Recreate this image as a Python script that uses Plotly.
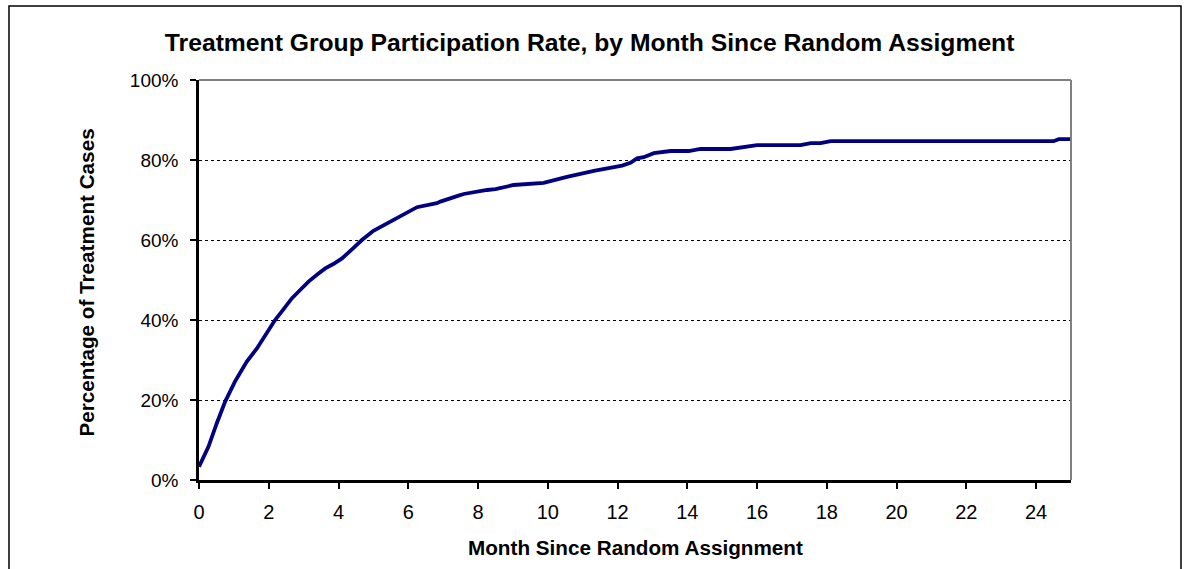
import plotly.graph_objects as go

months = [0, 0.27, 0.51, 0.75, 1.03, 1.37, 1.66, 1.94, 2.18, 2.37, 2.66, 2.90, 3.14, 3.38,
          3.62, 3.85, 4.10, 4.40, 4.67, 5.00, 5.48, 5.96, 6.25, 6.82, 6.92, 7.44, 7.59,
          8.26, 8.50, 9.02, 9.69, 9.88, 10.55, 11.32, 12.13, 12.37, 12.56, 12.75, 13.04,
          13.52, 14.04, 14.38, 15.24, 15.53, 16.0, 17.25, 17.54, 17.82, 18.11, 24.5,
          24.65, 25.0]
pct = [3.3, 8.3, 14.2, 19.6, 24.6, 29.6, 32.9, 36.7, 40.0, 42.1, 45.4, 47.5, 49.6, 51.3,
       52.9, 54.0, 55.4, 57.8, 60.0, 62.3, 64.6, 66.8, 68.2, 69.2, 69.6, 71.1, 71.5,
       72.5, 72.7, 73.75, 74.2, 74.3, 75.8, 77.3, 78.6, 79.3, 80.4, 80.7, 81.7,
       82.25, 82.25, 82.75, 82.75, 83.2, 83.7, 83.7, 84.2, 84.2, 84.7, 84.7,
       85.2, 85.2]

x_ticks = list(range(0, 25, 2))
y_ticks = [0, 20, 40, 60, 80, 100]
y_tick_labels = [f"{v}%" for v in y_ticks]

title_text = "Treatment Group Participation Rate, by Month Since Random Assigment"
x_title = "Month Since Random Assignment"
y_title = "Percentage of Treatment Cases"

FONT = "Liberation Sans, Arial, sans-serif"

fig = go.Figure()
fig.add_trace(go.Scatter(x=months, y=pct, mode="lines",
                         line=dict(color="#000080", width=3.8), hoverinfo="skip",
                         showlegend=False))

fig.update_layout(
    width=1190, height=569,
    margin=dict(l=199, r=119, t=80, b=89),
    paper_bgcolor="white", plot_bgcolor="white",
    font=dict(family=FONT, size=19, color="black"),
    title=dict(text=f"<b>{title_text}</b>", x=0.448, xref="paper", xanchor="center",
               y=1 - 42 / 569, yref="container", yanchor="middle",
               font=dict(family=FONT, size=24.7, color="black")),
    xaxis=dict(range=[0, 25], tickvals=x_ticks, ticks="outside", ticklen=6,
               tickwidth=1.5, tickcolor="black", showline=True, linecolor="black",
               linewidth=2.5, showgrid=False, zeroline=False, ticklabelstandoff=6,
               tickfont=dict(family=FONT, size=20)),
    yaxis=dict(range=[0, 100], tickvals=y_ticks, ticktext=y_tick_labels,
               ticks="outside", ticklen=6, tickwidth=1.5, tickcolor="black",
               showline=True, linecolor="black", linewidth=2.5, showgrid=True,
               gridcolor="black", gridwidth=1, griddash="dot", zeroline=False,
               ticklabelstandoff=8, tickfont=dict(family=FONT, size=19)),
    shapes=[
        dict(type="line", xref="paper", yref="paper", x0=0, x1=1, y0=1, y1=1,
             line=dict(color="#808080", width=2)),
        dict(type="line", xref="paper", yref="paper", x0=1, x1=1, y0=0, y1=1,
             line=dict(color="#808080", width=2)),
        dict(type="rect", xref="paper", yref="paper",
             x0=(9 - 199) / 872, x1=(1181 - 199) / 872,
             y0=(480 - 575) / 400, y1=(480 - 6) / 400,
             line=dict(color="black", width=1.5), fillcolor="rgba(0,0,0,0)"),
    ],
    annotations=[
        dict(text=f"<b>{x_title}</b>", xref="paper", yref="paper", x=0.5,
             y=(480 - 547) / 400, xanchor="center", yanchor="middle", showarrow=False,
             font=dict(family=FONT, size=20.7, color="black")),
        dict(text=f"<b>{y_title}</b>", xref="paper", yref="paper",
             x=(86 - 199) / 872, y=(480 - 282.5) / 400, xanchor="center",
             yanchor="middle", textangle=-90, showarrow=False,
             font=dict(family=FONT, size=20.7, color="black")),
    ],
)

fig.write_html("out.html", config={"displayModeBar": False},
               post_script="document.body.style.margin='0px';document.body.style.overflow='hidden';")
